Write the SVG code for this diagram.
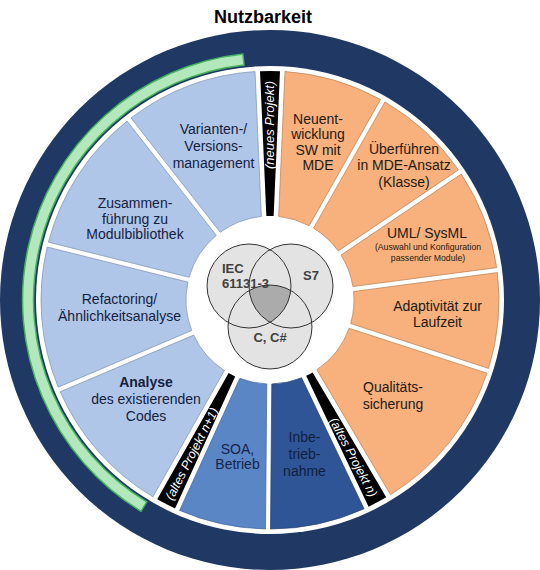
<svg xmlns="http://www.w3.org/2000/svg" width="540" height="570" viewBox="0 0 540 570">
<style>
.t{font-family:"Liberation Sans",Arial,sans-serif;font-size:14px;text-anchor:middle}
.lb{fill:#AFC6E9;stroke:#7D91B0;stroke-width:0.7}
.or{fill:#F8B07C;stroke:#B97E52;stroke-width:0.7}
.bk{fill:#000}
.tb{fill:#14213D}
.to{fill:#231A12}
.bt{font-family:"Liberation Sans",Arial,sans-serif;font-size:12.5px;font-style:italic;fill:#fff;text-anchor:middle}
.v{font-family:"Liberation Sans",Arial,sans-serif;font-size:13px;font-weight:bold;fill:#404040}
.vc{fill:#E3E3E3}
.vo{fill:none;stroke:#333;stroke-width:1}
</style>
<rect width="540" height="570" fill="#fff"/>
<text x="263" y="22.5" style="font-family:'Liberation Sans',Arial,sans-serif;font-size:18px;font-weight:bold;text-anchor:middle" fill="#000">Nutzbarkeit</text>
<g id="ring">
<circle cx="270" cy="300" r="270" fill="#203864"/>
<circle cx="270" cy="300" r="234" fill="#fff"/>
</g>
<g id="green-arc">
<path d="M141.05,511.25 A247.5,247.5 0 0 1 242.84,54 L244.05,64.93 A236.5,236.5 0 0 0 146.78,501.86 Z" fill="#B2E8BC" stroke="#46B35E" stroke-width="1.5"/>
</g>
<g id="neues-projekt">
<path class="bk" d="M260.01,71.22 A229,229 0 0 1 279.99,71.22 L273.66,216.08 A84,84 0 0 0 266.34,216.08 Z"/>
<text class="bt" font-size="13" transform="translate(274,125) rotate(-90)" style="font-size:13px">(neues Projekt)</text>
</g>
<g id="neuentwicklung">
<path class="or" d="M284.98,71.49 A229,229 0 0 1 380.58,99.47 L309.17,225.69 A84,84 0 0 0 278.65,216.45 Z"/>
<text class="t to"><tspan x="318" y="123.5">Neuent-</tspan><tspan x="318" y="139">wicklung</tspan><tspan x="318" y="154.5">SW mit</tspan><tspan x="318" y="170">MDE</tspan></text>
</g>
<g id="ueberfuehren">
<path class="or" d="M384.94,101.93 A229,229 0 0 1 458.44,169.88 L338.21,250.97 A84,84 0 0 0 313.52,228.15 Z"/>
<text class="t to"><tspan x="404" y="153.5">Überführen</tspan><tspan x="404" y="170">in MDE-Ansatz</tspan><tspan x="404" y="186.5">(Klasse)</tspan></text>
</g>
<g id="uml">
<path class="or" d="M461.24,174.02 A229,229 0 0 1 496.7,267.63 L352.92,286.56 A84,84 0 0 0 341.01,255.12 Z"/>
<text class="t to" x="427" y="237.5">UML/ SysML</text>
<text class="t to" style="font-size:8.7px"><tspan x="428" y="250">(Auswahl und Konfiguration</tspan><tspan x="428" y="260.5">passender Module)</tspan></text>
</g>
<g id="adaptivitaet">
<path class="or" d="M497.36,272.59 A229,229 0 0 1 488.56,368.38 L350.63,323.57 A84,84 0 0 0 353.57,291.52 Z"/>
<text class="t to"><tspan x="437.5" y="310.5">Adaptivität zur</tspan><tspan x="437.5" y="327">Laufzeit</tspan></text>
</g>
<g id="qualitaet">
<path class="or" d="M487.01,373.14 A229,229 0 0 1 390.51,494.73 L316.87,369.71 A84,84 0 0 0 349.08,328.32 Z"/>
<text class="t to"><tspan x="393" y="391.5">Qualitäts-</tspan><tspan x="393" y="408.5">sicherung</tspan></text>
</g>
<g id="altes-projekt-n">
<path class="bk" d="M386.23,497.31 A229,229 0 0 1 368.59,506.69 L306.16,375.82 A84,84 0 0 0 312.63,372.38 Z"/>
<text class="bt" transform="translate(349.7,459.2) rotate(62)">(altes Projekt n)</text>
</g>
<g id="inbetriebnahme">
<path d="M364.05,508.8 A229,229 0 0 1 270.5,529 L271.77,383.98 A84,84 0 0 0 301.59,377.83 Z" fill="#2F5597" stroke="#22406F" stroke-width="0.7"/>
<text class="t" fill="#0F1E3D"><tspan x="304.5" y="442">Inbe-</tspan><tspan x="304.5" y="459">trieb-</tspan><tspan x="304.5" y="476">nahme</tspan></text>
</g>
<g id="soa">
<path d="M265.5,528.96 A229,229 0 0 1 179.61,510.41 L239.78,378.37 A84,84 0 0 0 266.77,383.94 Z" fill="#5B86C5" stroke="#3F6499" stroke-width="0.7"/>
<text class="t" fill="#13244A"><tspan x="237.5" y="453.5">SOA,</tspan><tspan x="237.5" y="469">Betrieb</tspan></text>
</g>
<g id="altes-projekt-n1">
<path class="bk" d="M175.04,508.38 A229,229 0 0 1 157.24,499.31 L228.64,373.11 A84,84 0 0 0 235.17,376.44 Z"/>
<text class="bt" transform="translate(195.6,455.7) rotate(-63)">(altes Projekt n+1)</text>
</g>
<g id="analyse">
<path class="lb" d="M152.91,496.8 A229,229 0 0 1 60.19,391.78 L193.69,335.11 A84,84 0 0 0 224.36,370.52 Z"/>
<text class="t tb"><tspan x="146" y="387" font-weight="bold">Analyse</tspan><tspan x="146" y="404">des existierenden</tspan><tspan x="146" y="420.5">Codes</tspan></text>
</g>
<g id="refactoring">
<path class="lb" d="M58.23,387.17 A229,229 0 0 1 47.21,247.03 L187.93,282.11 A84,84 0 0 0 191.73,330.51 Z"/>
<text class="t tb"><tspan x="119.5" y="304">Refactoring/</tspan><tspan x="119.5" y="321">Ähnlichkeitsanalyse</tspan></text>
</g>
<g id="zusammenfuehrung">
<path class="lb" d="M48.42,242.18 A229,229 0 0 1 127.05,121.09 L216.34,235.38 A84,84 0 0 0 189.14,277.26 Z"/>
<text class="t tb"><tspan x="135" y="208">Zusammen-</tspan><tspan x="135" y="223.5">führung zu</tspan><tspan x="135" y="239">Modulbibliothek</tspan></text>
</g>
<g id="varianten">
<path class="lb" d="M130.99,118.01 A229,229 0 0 1 255.02,71.49 L261.35,216.45 A84,84 0 0 0 220.28,232.3 Z"/>
<text class="t tb"><tspan x="213.5" y="134">Varianten-/</tspan><tspan x="213.5" y="151">Versions-</tspan><tspan x="213.5" y="168">management</tspan></text>
</g>
<g id="venn">
<circle class="vc" cx="249" cy="286" r="42"/>
<circle class="vc" cx="291" cy="286" r="42"/>
<circle class="vc" cx="270" cy="327" r="42"/>
<path d="M270,322.4 A42,42 0 0 0 290.8,290.5 A42,42 0 0 0 249.2,290.5 A42,42 0 0 0 270,322.4 Z" fill="#ABABAB"/>
<circle class="vo" cx="249" cy="286" r="42"/>
<circle class="vo" cx="291" cy="286" r="42"/>
<circle class="vo" cx="270" cy="327" r="42"/>
<text class="v"><tspan x="222" y="272.5">IEC</tspan><tspan x="222" y="288">61131-3</tspan></text>
<text class="v" x="303" y="280">S7</text>
<text class="v" x="270" y="341.5" text-anchor="middle">C, C#</text>
</g>
</svg>
